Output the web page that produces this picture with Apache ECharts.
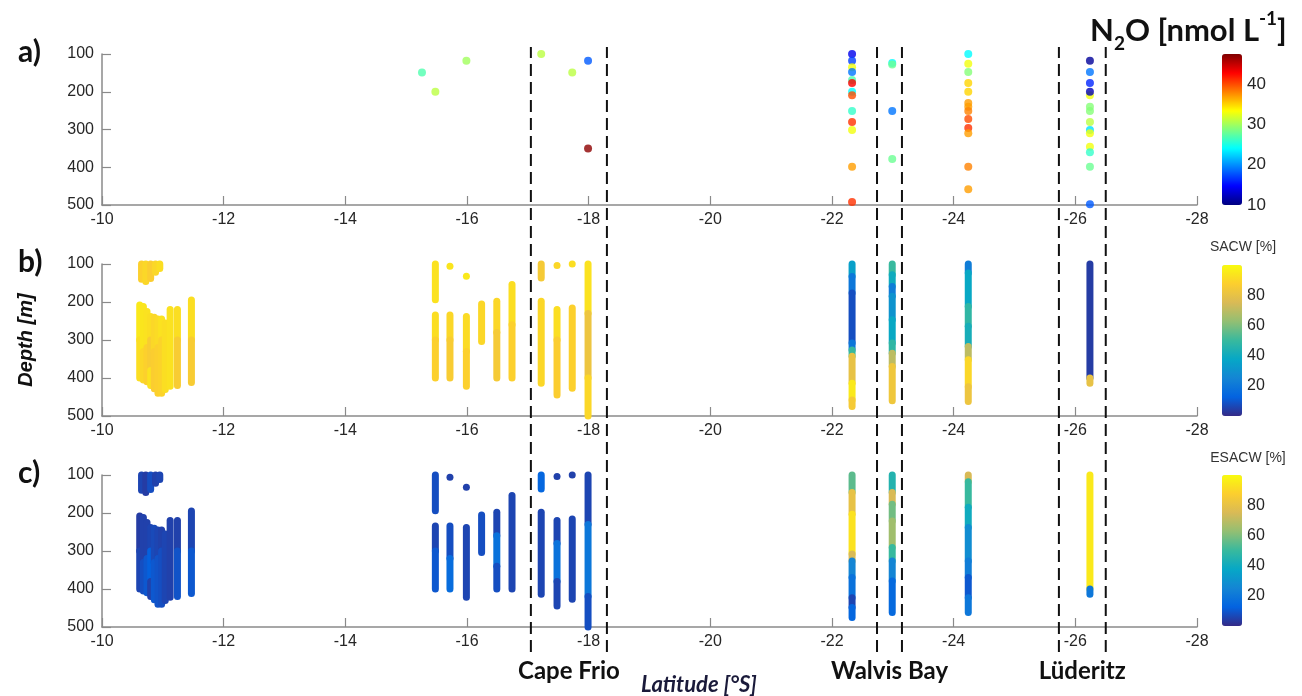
<!DOCTYPE html>
<html><head><meta charset="utf-8">
<script src="https://cdn.jsdelivr.net/npm/echarts@6/dist/echarts.min.js"></script>
<style>html,body{margin:0;padding:0;background:#fff}#c{width:1302px;height:696px}</style>
</head><body><div id="c"></div>
<script>
// ---- data ----
const boundaryLats = [-17.05, -18.3, -22.74, -23.15, -25.73, -26.5];
const placeNames = ['Cape Frio', 'Walvis Bay', 'Lüderitz'];
const panelLabels = ['a)', 'b)', 'c)'];

// N2O discrete samples: [latitude, depth m, N2O nmol/L]
const n2oPoints = [
  [-15.26,149,27],[-15.48,200,31],[-15.99,118,30],[-17.22,100,31],[-17.73,149,31],[-17.99,118,18],[-17.99,350,47],
  [-22.33,100,14],[-22.33,118,17],[-22.33,135,33],[-22.33,148,19],[-22.33,169,27],[-22.33,177,43],[-22.33,200,24],
  [-22.33,209,40],[-22.33,251,26],[-22.33,280,41],[-22.33,301,33],[-22.33,399,37],[-22.33,492,41],
  [-22.99,124,24],[-22.99,128,28],[-22.99,251,19],[-22.99,378,28],
  [-24.24,100,24],[-24.24,126,33],[-24.24,148,29],[-24.24,177,35],[-24.24,200,35],[-24.24,230,37],[-24.24,240,37],
  [-24.24,251,38],[-24.24,272,40],[-24.24,296,41],[-24.24,310,37],[-24.24,399,38],[-24.24,458,37],
  [-26.24,118,11],[-26.24,148,19],[-26.24,177,16],[-26.24,209,33],[-26.24,200,12],[-26.24,240,29],[-26.24,251,29],
  [-26.24,280,31],[-26.24,301,23],[-26.24,310,33],[-26.24,346,33],[-26.24,360,26],[-26.24,399,28],[-26.24,498,18]
];

// SACW profile segments: [latitude, top depth, bottom depth, SACW %]
const sacwSegments = [
  [-10.65,100,140,88],[-10.72,100,146,90],[-10.80,100,138,87],[-10.88,100,122,90],[-10.95,100,112,92],
  [-10.62,208,300,95],[-10.62,300,400,92],[-10.68,212,330,94],[-10.68,330,405,90],
  [-10.74,225,320,93],[-10.74,320,410,88],[-10.80,238,300,92],[-10.80,300,380,86],[-10.80,380,420,93],
  [-10.86,240,330,90],[-10.86,330,428,87],[-10.92,245,320,91],[-10.92,320,440,88],
  [-10.98,245,300,93],[-10.98,300,440,89],[-11.04,255,430,92],[-11.12,220,422,93],
  [-11.24,220,300,92],[-11.24,300,420,86],[-11.47,195,300,92],[-11.47,300,412,86],
  [-15.48,100,194,93],[-15.48,234,300,92],[-15.48,300,400,88],
  [-15.72,106,106,94],[-15.72,234,300,90],[-15.72,300,400,86],
  [-15.99,132,132,95],[-15.99,238,330,91],[-15.99,330,422,88],
  [-16.24,205,304,90],[-16.49,198,280,90],[-16.49,280,400,85],
  [-16.74,154,260,92],[-16.74,260,400,88],
  [-17.22,100,137,85],[-17.22,198,414,90],
  [-17.48,104,104,90],[-17.48,220,300,92],[-17.48,300,445,87],
  [-17.73,100,100,92],[-17.73,216,427,88],
  [-17.99,100,230,93],[-17.99,230,400,82],[-17.99,400,500,90],
  [-22.33,100,133,35],[-22.33,133,176,20],[-22.33,176,308,8],[-22.33,308,326,20],[-22.33,326,343,50],
  [-22.33,343,414,80],[-22.33,414,458,95],[-22.33,458,475,85],
  [-22.99,100,128,50],[-22.99,128,159,40],[-22.99,159,185,22],[-22.99,185,247,30],[-22.99,247,308,38],
  [-22.99,308,335,48],[-22.99,335,370,70],[-22.99,370,460,83],
  [-24.24,100,124,22],[-24.24,124,212,38],[-24.24,212,264,48],[-24.24,264,317,42],[-24.24,317,352,70],
  [-24.24,352,423,90],[-24.24,423,462,82],
  [-26.24,100,400,4],[-26.24,400,414,80]
];

// ESACW profile segments: [latitude, top depth, bottom depth, ESACW %]
const esacwSegments = [
  [-10.65,100,140,6],[-10.72,100,146,4],[-10.80,100,138,8],[-10.88,100,122,5],[-10.95,100,112,6],
  [-10.62,208,300,4],[-10.62,300,400,6],[-10.68,212,330,5],[-10.68,330,405,8],
  [-10.74,225,320,5],[-10.74,320,410,10],[-10.80,238,300,6],[-10.80,300,380,12],[-10.80,380,420,5],
  [-10.86,240,330,7],[-10.86,330,428,10],[-10.92,245,320,6],[-10.92,320,440,9],
  [-10.98,245,300,5],[-10.98,300,440,8],[-11.04,255,430,6],[-11.12,220,422,5],
  [-11.24,220,300,5],[-11.24,300,420,9],[-11.47,195,300,6],[-11.47,300,412,10],
  [-15.48,100,194,8],[-15.48,234,300,6],[-15.48,300,400,10],
  [-15.72,106,106,5],[-15.72,234,320,8],[-15.72,320,400,16],
  [-15.99,132,132,5],[-15.99,238,422,6],
  [-16.24,205,304,8],[-16.49,198,260,6],[-16.49,260,340,18],[-16.49,340,400,8],
  [-16.74,154,400,6],
  [-17.22,100,137,14],[-17.22,198,414,6],
  [-17.48,104,104,5],[-17.48,220,280,6],[-17.48,280,380,18],[-17.48,380,445,6],
  [-17.73,100,100,5],[-17.73,216,427,6],
  [-17.99,100,230,6],[-17.99,230,420,20],[-17.99,420,500,8],
  [-22.33,100,146,55],[-22.33,146,203,80],[-22.33,203,308,93],[-22.33,308,326,75],[-22.33,326,370,25],
  [-22.33,370,423,18],[-22.33,423,449,6],[-22.33,449,475,14],
  [-22.99,100,146,45],[-22.99,146,177,75],[-22.99,177,221,58],[-22.99,221,291,65],[-22.99,291,326,50],
  [-22.99,326,379,25],[-22.99,379,462,15],
  [-24.24,100,118,75],[-24.24,118,185,50],[-24.24,185,238,40],[-24.24,238,326,28],[-24.24,326,370,22],
  [-24.24,370,423,10],[-24.24,423,462,20],
  [-26.24,100,400,95],[-26.24,400,414,20]
];

const jetColors = ['#00007f','#0000ff','#007fff','#00ffff','#7fff7f','#ffff00','#ff7f00','#ff0000','#7f0000'];
const parulaColors = ['#352a87','#0363e1','#1485d4','#06a7c6','#38b99e','#92bf73','#d9ba56','#fcce2e','#f9fb0e'];

// ---- layout ----
const L = 102, W = 1095;
const panelTops = [54, 264, 475];
const panelH = [151, 152, 152];
const AXIS = '#8a8a8a', TXT = '#262626';

const chart = echarts.init(document.getElementById('c'), null, {renderer: 'canvas'});

const grids = [], xAxes = [], yAxes = [];
panelTops.forEach((t, i) => {
  grids.push({left: L, width: W, top: t, height: panelH[i]});
  xAxes.push({gridIndex: i, type: 'value', min: -28, max: -10, interval: 2, inverse: true,
    axisLine: {show: true, onZero: false, lineStyle: {color: AXIS, width: 1.5}},
    axisTick: {show: true, inside: true, length: 9, lineStyle: {color: AXIS, width: 1.2}},
    axisLabel: {color: TXT, fontSize: 16, fontFamily: 'Liberation Sans', margin: 7},
    splitLine: {show: false}});
  yAxes.push({gridIndex: i, type: 'value', min: 100, max: 500, interval: 100, inverse: true,
    axisLine: {show: true, onZero: false, lineStyle: {color: AXIS, width: 1.5}},
    axisTick: {show: true, inside: true, length: 9, lineStyle: {color: AXIS, width: 1.2}},
    axisLabel: {color: TXT, fontSize: 16, fontFamily: 'Liberation Sans', margin: 8},
    splitLine: {show: false}});
});
// overlay grid (index 3) for the dashed boundaries spanning all panels
grids.push({left: L, width: W, top: 47, height: 605});
xAxes.push({gridIndex: 3, type: 'value', min: -28, max: -10, inverse: true, show: false});
yAxes.push({gridIndex: 3, type: 'value', min: 0, max: 1, show: false});
// colorbar axis grids (4,5,6)
const cbTops = [54, 265, 475], cbH = [151, 151, 151];
const cbRanges = [[10, 47.5, 10], [0, 100, 20], [0, 100, 20]];
cbTops.forEach((t, i) => {
  const gi = 4 + i;
  grids.push({left: 1222, width: 20, top: t, height: cbH[i]});
  xAxes.push({gridIndex: gi, type: 'value', show: false, min: 0, max: 1});
  yAxes.push({gridIndex: gi, type: 'value', position: 'right', min: cbRanges[i][0], max: cbRanges[i][1], interval: cbRanges[i][2],
    axisLine: {show: false}, axisTick: {show: false}, splitLine: {show: false},
    axisLabel: {color: TXT, fontSize: i === 0 ? 17 : 16, fontFamily: 'Liberation Sans', margin: 5,
      formatter: v => (i === 0 ? (v % 10 === 0 ? String(v) : '') : (v > 0 && v < 100 ? String(v) : ''))}});
});

function segRender(params, api) {
  const lat = api.value(0);
  const p0 = api.coord([lat, api.value(1)]);
  const p1 = api.coord([lat, api.value(2)]);
  const w = 7;
  return {type: 'rect',
    shape: {x: p0[0] - w / 2, y: p0[1] - w / 2, width: w, height: p1[1] - p0[1] + w, r: w / 2},
    style: {fill: api.visual('color')}};
}

const placeData = placeNames.map((n, i) => [(boundaryLats[2 * i] + boundaryLats[2 * i + 1]) / 2, 0, n]);

const option = {
  backgroundColor: '#fff',
  animation: false,
  grid: grids, xAxis: xAxes, yAxis: yAxes,
  visualMap: [
    {type: 'continuous', seriesIndex: 0, dimension: 2, min: 10, max: 47.5, inRange: {color: jetColors},
      left: 1222, top: 54, itemWidth: 20, itemHeight: 151, padding: 0, calculable: false, hoverLink: false},
    {type: 'continuous', seriesIndex: 1, dimension: 3, min: 0, max: 100, inRange: {color: parulaColors},
      left: 1222, top: 265, itemWidth: 20, itemHeight: 151, padding: 0, calculable: false, hoverLink: false},
    {type: 'continuous', seriesIndex: 2, dimension: 3, min: 0, max: 100, inRange: {color: parulaColors},
      left: 1222, top: 475, itemWidth: 20, itemHeight: 151, padding: 0, calculable: false, hoverLink: false}
  ],
  series: [
    {type: 'scatter', xAxisIndex: 0, yAxisIndex: 0, data: n2oPoints, symbolSize: 8, clip: false, silent: true},
    {type: 'custom', xAxisIndex: 1, yAxisIndex: 1, data: sacwSegments, renderItem: segRender,
      encode: {x: 0, y: [1, 2]}, dimensions: ['lat', 'top', 'bottom', 'val'], clip: false, silent: true},
    {type: 'custom', xAxisIndex: 2, yAxisIndex: 2, data: esacwSegments, renderItem: segRender,
      encode: {x: 0, y: [1, 2]}, dimensions: ['lat', 'top', 'bottom', 'val'], clip: false, silent: true},
    {type: 'custom', xAxisIndex: 3, yAxisIndex: 3, data: boundaryLats.map(v => [v]), silent: true, clip: false,
      encode: {x: 0},
      renderItem: (params, api) => {
        const a = api.coord([api.value(0), 0]), b = api.coord([api.value(0), 1]);
        return {type: 'line', shape: {x1: a[0], y1: a[1], x2: b[0], y2: b[1]},
          style: {stroke: '#111', lineWidth: 2, lineDash: [12, 6]}};
      }},
    {type: 'custom', xAxisIndex: 3, yAxisIndex: 3, data: placeData, silent: true, clip: false,
      encode: {x: 0, y: 1},
      renderItem: (params, api) => {
        const p = api.coord([api.value(0), 0]);
        return {type: 'text', x: p[0], y: p[1] + 19,
          style: {text: placeData[params.dataIndex][2], font: 'bold 24px Lato', fill: '#111',
            align: 'center', verticalAlign: 'middle'}};
      }}
  ],
  graphic: [
    ...panelLabels.map((t, i) => ({type: 'text', left: 18, top: panelTops[i] - 17,
      style: {text: t, font: 'bold 30px Lato', fill: '#111'}})),
    {type: 'text', x: 26, y: 340, rotation: Math.PI / 2,
      style: {text: 'Depth [m]', font: 'italic bold 20px Liberation Sans', fill: '#111', align: 'center', verticalAlign: 'middle'}},
    {type: 'text', x: 699, y: 685,
      style: {text: 'Latitude [°S]', font: 'italic bold 22px Lato', fill: '#1a1a3a', align: 'center', verticalAlign: 'middle'}},
    {type: 'text', x: 1243, y: 247,
      style: {text: 'SACW [%]', font: '14px Liberation Sans', fill: '#333', align: 'center', verticalAlign: 'middle'}},
    {type: 'text', x: 1248, y: 458,
      style: {text: 'ESACW [%]', font: '14px Liberation Sans', fill: '#333', align: 'center', verticalAlign: 'middle'}},
    {type: 'text', left: 1090, top: 9,
      style: {rich: {n: {fontSize: 31, fontWeight: 'bold', fontFamily: 'Lato', fill: '#111', lineHeight: 44},
        s: {fontSize: 19, fontWeight: 'bold', fontFamily: 'Lato', fill: '#111', verticalAlign: 'bottom', lineHeight: 44},
        p: {fontSize: 19, fontWeight: 'bold', fontFamily: 'Lato', fill: '#111', verticalAlign: 'top', lineHeight: 44}},
        text: '{n|N}{s|2}{n|O [nmol L}{p|-1}{n|]}'}}
  ]
};
chart.setOption(option);
</script></body></html>
